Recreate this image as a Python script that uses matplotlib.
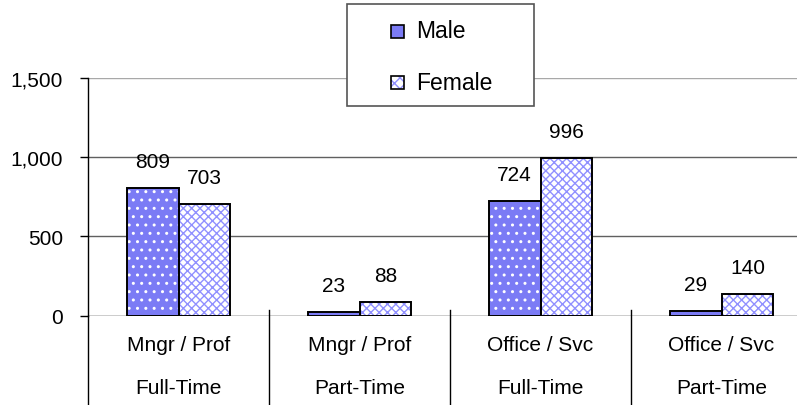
import matplotlib
matplotlib.use('Agg')
import matplotlib.pyplot as plt
import matplotlib.transforms as mtransforms
from matplotlib.patches import Rectangle
import numpy as np

# --- data ---
jobs = ['Mngr / Prof', 'Mngr / Prof', 'Office / Svc', 'Office / Svc']
hours = ['Full-Time', 'Part-Time', 'Full-Time', 'Part-Time']
male = [809, 23, 724, 29]
female = [703, 88, 996, 140]
series_names = ['Male', 'Female']
yticks = [0, 500, 1000, 1500]
ytick_labels = ['0', '500', '1,000', '1,500']

plt.rcParams['font.family'] = ['Liberation Sans', 'DejaVu Sans']
plt.rcParams['hatch.linewidth'] = 1.0

W, H = 797, 406
fig = plt.figure(figsize=(W / 100, H / 100), dpi=100)
# plot area runs a bit past the right edge, as in the reference
ax = fig.add_axes([88 / W, (H - 316.7) / H, 724 / W, (316.7 - 79) / H])

x = np.arange(len(male))
bw = 0.287
male_col = '#7B7BF5'
fem_hatch = '#9090FF'
male_pat = '..'
fem_pat = 'xxxx'
fs = 15

# fills with pattern first (hatch takes the edge colour), then black outlines
ax.bar(x - bw / 2, male, bw, color=male_col, edgecolor='white', hatch=male_pat, linewidth=0, zorder=3)
ax.bar(x + bw / 2, female, bw, color='white', edgecolor=fem_hatch, hatch=fem_pat, linewidth=0, zorder=3)
ax.bar(x - bw / 2, male, bw, fill=False, edgecolor='black', linewidth=1.4, zorder=4)
ax.bar(x + bw / 2, female, bw, fill=False, edgecolor='black', linewidth=1.4, zorder=4)

for xi, v in zip(x - bw / 2, male):
    ax.annotate(str(v), (xi, v), xytext=(0, 19), textcoords='offset points',
                ha='center', va='center', fontsize=fs)
for xi, v in zip(x + bw / 2, female):
    ax.annotate(str(v), (xi, v), xytext=(0, 19), textcoords='offset points',
                ha='center', va='center', fontsize=fs)

ax.set_xlim(-0.5, 3.5)
ax.set_ylim(0, 1500)
ax.set_yticks(yticks)
ax.set_yticklabels(ytick_labels)
ax.tick_params(axis='y', length=6, width=1, pad=12, labelsize=fs, direction='out')
ax.set_xticks([])
for s in ['top', 'right', 'bottom']:
    ax.spines[s].set_visible(False)
ax.spines['left'].set_linewidth(1)

for yv in yticks[1:]:
    ax.axhline(yv, color='#a8a8a8' if yv == 1500 else '#606060', lw=1, zorder=1)
ax.axhline(0, color='black', lw=1, zorder=5)

# multi-level category axis
trans = mtransforms.blended_transform_factory(ax.transData, ax.transAxes)
for b in [0.5, 1.5, 2.5]:
    ax.plot([b, b], [0.023, -0.38], color='black', lw=1, transform=trans, clip_on=False)
ax.plot([-0.5, -0.5], [0, -0.38], color='black', lw=1, transform=trans, clip_on=False)
for xi, j, h in zip(x, jobs, hours):
    ax.text(xi, -0.12, j, transform=trans, ha='center', va='center', fontsize=fs)
    ax.text(xi, -0.30, h, transform=trans, ha='center', va='center', fontsize=fs)

# legend box drawn by hand in pixel coordinates (figure fraction)
def px(xp, yp):
    return xp / W, 1 - yp / H

fig.add_artist(Rectangle(px(347, 107), 187 / W, 102 / H, transform=fig.transFigure,
                         facecolor='white', edgecolor='#555555', lw=1.2))
for yc, name, face, hcol, pat in [(32, series_names[0], male_col, 'white', None),
                                  (83, series_names[1], 'white', fem_hatch, 'xxx')]:
    fig.add_artist(Rectangle(px(391, yc + 6.5), 13 / W, 13 / H, transform=fig.transFigure,
                             facecolor=face, edgecolor=hcol, hatch=pat, lw=0))
    fig.add_artist(Rectangle(px(391, yc + 6.5), 13 / W, 13 / H, transform=fig.transFigure,
                             fill=False, edgecolor='black', lw=1.2))
    fig.text(416 / W, 1 - yc / H, name, ha='left', va='center', fontsize=16.5)

fig.savefig('out.png', dpi=100)
